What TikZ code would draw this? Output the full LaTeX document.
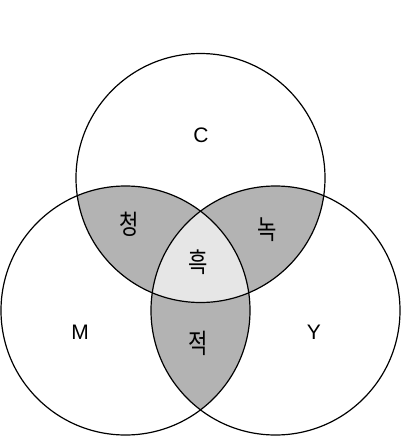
\documentclass[tikz,border=0pt]{standalone}
\usepackage{fontspec}
\setmainfont{Liberation Sans}
\newfontfamily\krfont{Noto Sans CJK KR}
\definecolor{pairgray}{HTML}{B3B3B3}
\definecolor{centergray}{HTML}{E6E6E6}
\begin{document}
\begin{tikzpicture}[x=1pt,y=-1pt,
  ring/.style={draw=black,line width=1.2pt},
  latin/.style={font=\fontsize{21}{21}\selectfont,inner sep=0pt},
  korean/.style={font=\krfont\fontsize{27}{27}\selectfont,inner sep=0pt,xscale=0.78}]
\useasboundingbox (0,0) rectangle (400,437);
\coordinate (cC) at (200.5,178);
\coordinate (cM) at (125.5,310.5);
\coordinate (cY) at (275.5,310.5);
\def\rad{124.5}
% pairwise overlaps
\begin{scope}\clip (cC) circle (\rad); \fill[pairgray] (cM) circle (\rad);\end{scope}
\begin{scope}\clip (cC) circle (\rad); \fill[pairgray] (cY) circle (\rad);\end{scope}
\begin{scope}\clip (cM) circle (\rad); \fill[pairgray] (cY) circle (\rad);\end{scope}
% triple overlap
\begin{scope}\clip (cC) circle (\rad); \clip (cM) circle (\rad); \fill[centergray] (cY) circle (\rad);\end{scope}
% outlines
\draw[ring] (cC) circle (\rad);
\draw[ring] (cM) circle (\rad);
\draw[ring] (cY) circle (\rad);
% labels
\node[latin] (lC) at (201,135) {C};
\node[latin] (lM) at (80,332) {M};
\node[latin] (lY) at (314,332) {Y};
\node[korean] (lB) at (129,224) {청};
\node[korean] (lG) at (267,230) {녹};
\node[korean] (lK) at (198,262) {흑};
\node[korean] (lR) at (198,343) {적};
\end{tikzpicture}
\end{document}
